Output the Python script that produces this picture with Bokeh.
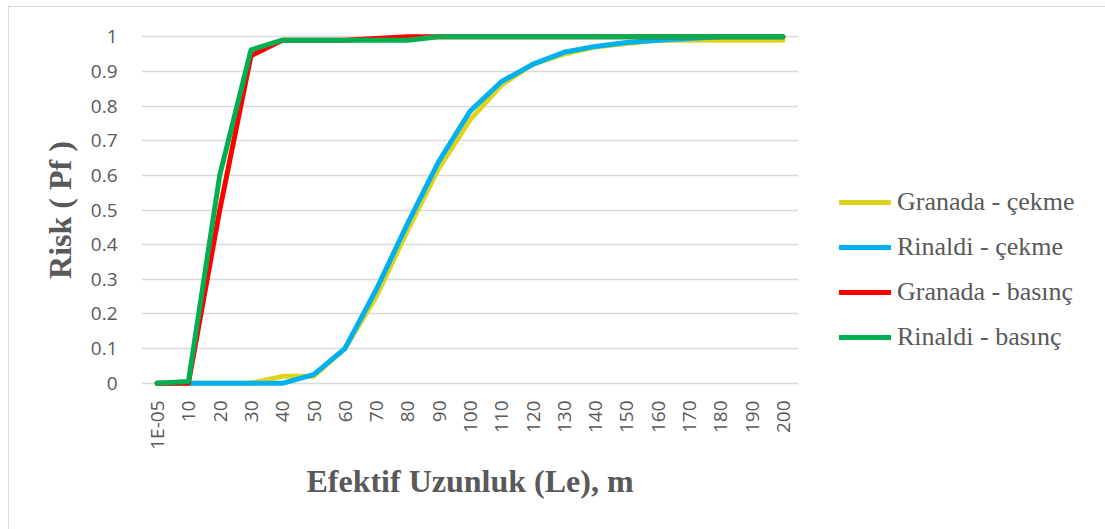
from bokeh.plotting import figure
from bokeh.models import FactorRange, Range1d, FixedTicker, Legend, LegendItem
from bokeh.embed import file_html
from bokeh.resources import INLINE
import math

categories = ["1E-05", "10", "20", "30", "40", "50", "60", "70", "80", "90", "100",
              "110", "120", "130", "140", "150", "160", "170", "180", "190", "200"]

granada_cekme = [0, 0, 0, 0, 0.02, 0.02, 0.10, 0.25, 0.44, 0.62, 0.76,
                 0.86, 0.92, 0.95, 0.97, 0.98, 0.99, 0.99, 0.99, 0.99, 0.99]
rinaldi_cekme = [0, 0, 0, 0, 0, 0.025, 0.10, 0.27, 0.46, 0.64, 0.785,
                 0.87, 0.92, 0.955, 0.972, 0.983, 0.99, 0.995, 1, 1, 1]
granada_basinc = [0, 0, 0.50, 0.945, 0.99, 0.99, 0.99, 0.995, 1, 1, 1,
                  1, 1, 1, 1, 1, 1, 1, 1, 1, 1]
rinaldi_basinc = [0, 0.005, 0.60, 0.962, 0.99, 0.99, 0.99, 0.99, 0.99, 1, 1,
                  1, 1, 1, 1, 1, 1, 1, 1, 1, 1]

series_names = ["Granada - çekme", "Rinaldi - çekme", "Granada - basınç", "Rinaldi - basınç"]
series_values = [granada_cekme, rinaldi_cekme, granada_basinc, rinaldi_basinc]
series_colors = ["#E0D31B", "#00B0F0", "#FF0000", "#00B050"]

y_ticks = [0, 0.1, 0.2, 0.3, 0.4, 0.5, 0.6, 0.7, 0.8, 0.9, 1]

pad = 0.015
p = figure(frame_width=657, frame_height=357, output_backend="svg", toolbar_location=None,
           x_range=FactorRange(*categories), y_range=Range1d(-pad, 1 + pad),
           min_border_left=132, min_border_right=0, min_border_top=24, min_border_bottom=141)
p.styles = {"border": "1px solid #D9D9D9", "box-sizing": "border-box",
            "margin-left": "8px", "margin-top": "6px"}
p.outline_line_color = None
p.background_fill_color = "white"
p.border_fill_color = "white"

renderers = []
for name, vals, col in zip(series_names, series_values, series_colors):
    r = p.line(categories, vals, line_color=col, line_width=5,
               line_cap="round", line_join="round")
    renderers.append((name, r))

p.xgrid.grid_line_color = None
p.ygrid.grid_line_color = "#D9D9D9"
p.ygrid.grid_line_width = 1.5

p.yaxis.ticker = FixedTicker(ticks=y_ticks)
p.yaxis.major_label_overrides = {t: ("%g" % t) for t in y_ticks}
for ax in (p.xaxis, p.yaxis):
    ax.axis_line_color = None
    ax.major_tick_line_color = None
    ax.minor_tick_line_color = None
    ax.major_tick_out = 0
    ax.major_tick_in = 0
    ax.major_label_text_font = "Open Sans"
    ax.major_label_text_font_size = "19px"
    ax.major_label_text_color = "#595959"
    ax.axis_label_text_font = "Liberation Serif"
    ax.axis_label_text_font_style = "bold"
    ax.axis_label_text_font_size = "32px"
    ax.axis_label_text_color = "#595959"

p.yaxis.major_label_standoff = 24
p.yaxis.axis_label = "Risk ( Pf )"
p.yaxis.axis_label_standoff = 10
p.xaxis.major_label_orientation = math.pi / 2
p.xaxis.major_label_standoff = 12
p.xaxis.axis_label = "Efektif Uzunluk (Le), m"
p.xaxis.axis_label_standoff = 10

legend = Legend(items=[LegendItem(label=n, renderers=[r]) for n, r in renderers],
                location=(41, 36))
legend.label_text_font = "Liberation Serif"
legend.label_text_font_size = "26px"
legend.label_text_color = "#595959"
legend.glyph_width = 52
legend.glyph_height = 30
legend.label_height = 30
legend.spacing = 15
legend.label_standoff = 6
legend.padding = 0
legend.margin = 0
legend.border_line_color = None
legend.background_fill_alpha = 0
p.add_layout(legend, "right")

open("out.html", "w").write(file_html(p, INLINE))
